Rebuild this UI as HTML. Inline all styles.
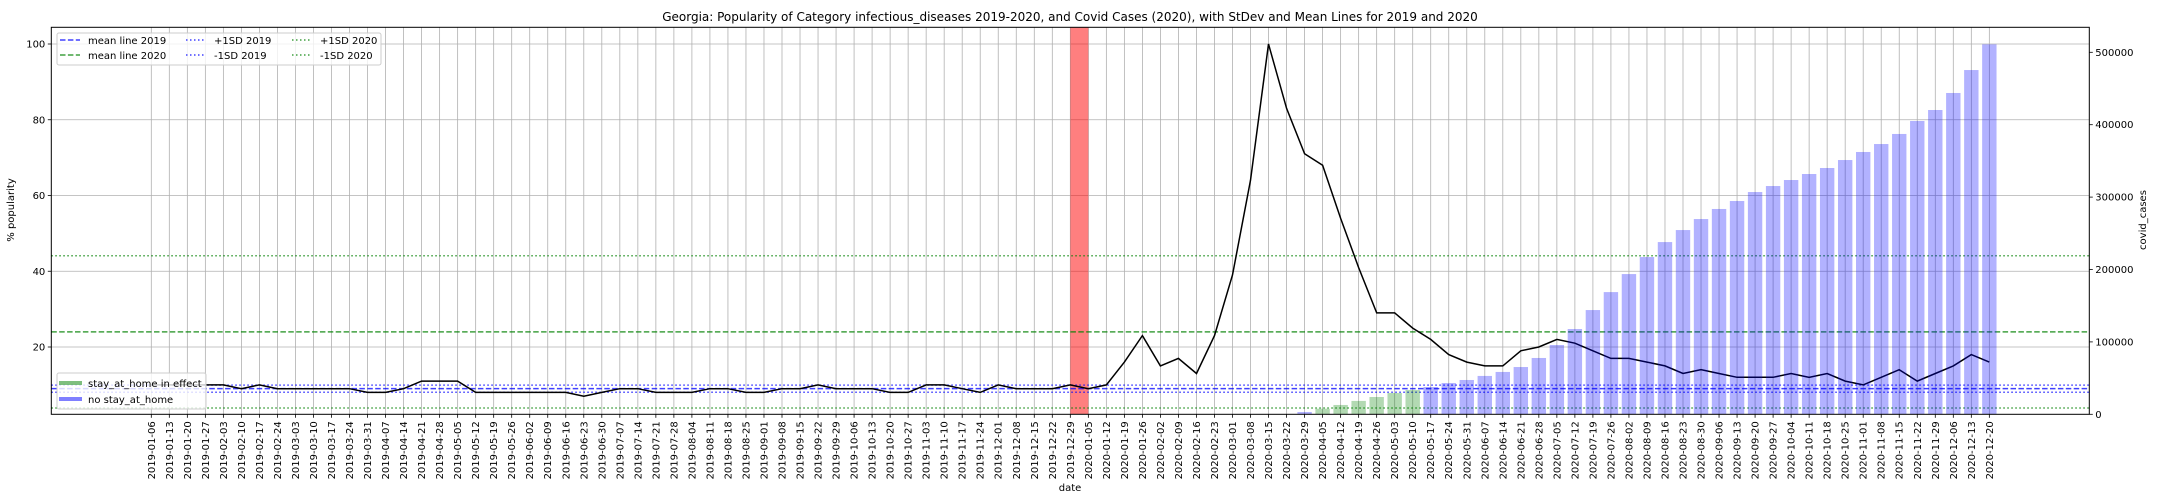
<!DOCTYPE html>
<html><head><meta charset="utf-8"><style>
html,body{margin:0;padding:0;background:#fff;}
svg{display:block;font-family:"DejaVu Sans","Liberation Sans",sans-serif;}
</style></head><body>
<svg id="chart" width="2160" height="504" viewBox="0 0 2160 504">
<text x="1070" y="21" font-size="12" text-anchor="middle" fill="#000">Georgia: Popularity of Category infectious_diseases 2019-2020, and Covid Cases (2020), with StDev and Mean Lines for 2019 and 2020</text>
<g id="grid"></g>
<g id="marks"></g>
<g id="axes"></g>
<text x="14" y="210" font-size="10" text-anchor="middle" transform="rotate(-90 14 210)">% popularity</text>
<text x="2146" y="220" font-size="10" text-anchor="middle" transform="rotate(-90 2146 220)">covid_cases</text>
<text x="1070" y="491" font-size="10" text-anchor="middle">date</text>
<g>
<rect x="57" y="33" width="324" height="32" rx="2" fill="#fff" fill-opacity="0.8" stroke="#ccc" stroke-width="1"/>
<line x1="60" y1="40" x2="80" y2="40" stroke="#0000ff" stroke-opacity="0.75" stroke-width="1.5" stroke-dasharray="5.5,2.4"/>
<text x="88" y="44" font-size="10">mean line 2019</text>
<line x1="60" y1="55" x2="80" y2="55" stroke="#008000" stroke-opacity="0.75" stroke-width="1.5" stroke-dasharray="5.5,2.4"/>
<text x="88" y="59" font-size="10">mean line 2020</text>
<line x1="186" y1="40" x2="205" y2="40" stroke="#0000ff" stroke-opacity="0.75" stroke-width="1.5" stroke-dasharray="1.5,2.5"/>
<text x="214" y="44" font-size="10">+1SD 2019</text>
<line x1="186" y1="55" x2="205" y2="55" stroke="#0000ff" stroke-opacity="0.75" stroke-width="1.5" stroke-dasharray="1.5,2.5"/>
<text x="214" y="59" font-size="10">-1SD 2019</text>
<line x1="292" y1="40" x2="312" y2="40" stroke="#008000" stroke-opacity="0.75" stroke-width="1.5" stroke-dasharray="1.5,2.5"/>
<text x="320" y="44" font-size="10">+1SD 2020</text>
<line x1="292" y1="55" x2="312" y2="55" stroke="#008000" stroke-opacity="0.75" stroke-width="1.5" stroke-dasharray="1.5,2.5"/>
<text x="320" y="59" font-size="10">-1SD 2020</text>
</g>
<g>
<rect x="57" y="373" width="149" height="36" rx="2" fill="#fff" fill-opacity="0.8" stroke="#ccc" stroke-width="1"/>
<line x1="59" y1="383" x2="82" y2="383" stroke="#008000" stroke-opacity="0.5" stroke-width="4"/>
<text x="88" y="387" font-size="10">stay_at_home in effect</text>
<line x1="59" y1="399" x2="82" y2="399" stroke="#0000ff" stroke-opacity="0.5" stroke-width="4"/>
<text x="88" y="403" font-size="10">no stay_at_home</text>
</g>
</svg>
<script>
const startDate = "2019-01-06";
const weekCount = 103;
const popularity = [10,10,10,10,10,9,10,9,9,9,9,9,8,8,9,
11,11,11,8,8,8,8,8,8,7,8,9,9,8,8,8,
9,9,8,8,9,9,10,9,9,9,8,8,10,10,9,8,10,9,9,9,10,9,
10,16,23,15,17,13,23,39,64,100,
83,71,68,54,41,29,29,25,22,18,
16,15,15,19,20,22,21,19,17,17,
16,15,13,14,13,12,12,12,13,12,
13,11,10,12,14,11,13,15,18,16];
const covidIdx = [64,65,66,67,68,69,70,71,72,73,74,75,76,77,78,79,80,81,82,83,84,85,86,87,88,89,90,91,92,93,94,95,96,97,98,99,100,101,102];
const covidCases = [3200,7700,12900,18500,23900,29400,33600,37700,43200,47400,53000,58500,65300,77800,95700,117800,144000,168800,193700,217200,237900,254500,269700,283600,294600,307000,315300,323600,331900,340200,351200,362300,373300,387200,405100,420300,443800,475500,511000];
const stayHomeIdx = [65,66,67,68,69,70];
const mean2019 = [9.0];
const sd2019 = [0.95];
const mean2020 = [24.0];
const sd2020 = [20.1];
const spanIdx = [51,52];
const leftTicks = [20,40,60,80,100];
const rightTicks = [0,100000,200000,300000,400000,500000];

const NS="http://www.w3.org/2000/svg";
const L=51.3,R=2089.3,T=27.3,B=414.3;
function x(i){return 151.3+18.02*i;}
function yL(v){return 347-(v-20)*3.7875;}
function yR(v){return 414.3-v*0.000724;}
function mk(tag,attrs,parent){const e=document.createElementNS(NS,tag);for(const k in attrs)e.setAttribute(k,attrs[k]);parent.appendChild(e);return e;}
const labels=[];
(function(){const d=new Date(startDate+"T00:00:00Z");for(let i=0;i<weekCount;i++){const c=new Date(d.getTime()+i*7*86400000);labels.push(c.toISOString().slice(0,10));}})();

const grid=document.getElementById('grid'),marks=document.getElementById('marks'),axes=document.getElementById('axes');
for(let i=0;i<labels.length;i++){
  const g=mk('line',{x1:x(i),x2:x(i),y1:T,y2:B,stroke:'#b0b0b0','stroke-width':0.8},grid);
  
  
}
leftTicks.forEach(v=>{
  const g=mk('line',{x1:L,x2:R,y1:yL(v),y2:yL(v),stroke:'#b0b0b0','stroke-width':0.8},grid);
  
  
});
// red span
{const r=mk('rect',{x:x(spanIdx[0]),y:T,width:x(spanIdx[1])-x(spanIdx[0]),height:B-T,fill:'#ff0000','fill-opacity':0.5},marks);

}
// stat lines
function hline(v,color,dash,name){const l=mk('line',{x1:L,x2:R,y1:yL(v),y2:yL(v),stroke:color,'stroke-opacity':0.75,'stroke-width':1.5,'stroke-dasharray':dash},marks);

}
hline(mean2019[0],'#0000ff','5.5,2.4','mean-line-2019');
hline(mean2019[0]+sd2019[0],'#0000ff','1.5,2.5','plus-sd-2019');
hline(mean2019[0]-sd2019[0],'#0000ff','1.5,2.5','minus-sd-2019');
hline(mean2020[0],'#008000','5.5,2.4','mean-line-2020');
hline(mean2020[0]+sd2020[0],'#008000','1.5,2.5','plus-sd-2020');
hline(mean2020[0]-sd2020[0],'#008000','1.5,2.5','minus-sd-2020');
// popularity line
{const p=mk('polyline',{points:popularity.map((v,i)=>x(i).toFixed(1)+','+yL(v).toFixed(1)).join(' '),fill:'none',stroke:'#000','stroke-width':1.5,'stroke-linejoin':'miter'},marks);

}
// bars
covidIdx.forEach((idx,k)=>{
  const v=covidCases[k];const home=stayHomeIdx.includes(idx);
  const w=14.4;
  const b=mk('rect',{x:x(idx)-w/2,y:yR(v),width:w,height:yR(0)-yR(v),fill:home?'#008000':'#0000ff','fill-opacity':0.3},marks);
  
  
});
// spines
mk('rect',{x:L,y:T,width:R-L,height:B-T,fill:'none',stroke:'#000','stroke-width':1},axes);
// x ticks
labels.forEach((lab,i)=>{
  mk('line',{x1:x(i),x2:x(i),y1:B,y2:B+3.5,stroke:'#000','stroke-width':0.8},axes);
  const t=mk('text',{x:x(i)+3.5,y:B+7,'font-size':10,'text-anchor':'end',transform:'rotate(-90 '+(x(i)+3.5)+' '+(B+7)+')'},axes);
  t.textContent=lab;
  
  
});
leftTicks.forEach(v=>{
  mk('line',{x1:L-3.5,x2:L,y1:yL(v),y2:yL(v),stroke:'#000','stroke-width':0.8},axes);
  const t=mk('text',{x:L-6,y:yL(v)+3.5,'font-size':10,'text-anchor':'end'},axes);
  t.textContent=v;
  
  
});
rightTicks.forEach(v=>{
  mk('line',{x1:R,x2:R+3.5,y1:yR(v),y2:yR(v),stroke:'#000','stroke-width':0.8},axes);
  const t=mk('text',{x:R+6,y:yR(v)+3.5,'font-size':10,'text-anchor':'start'},axes);
  t.textContent=v;
  
  
});
</script>
</body></html>
